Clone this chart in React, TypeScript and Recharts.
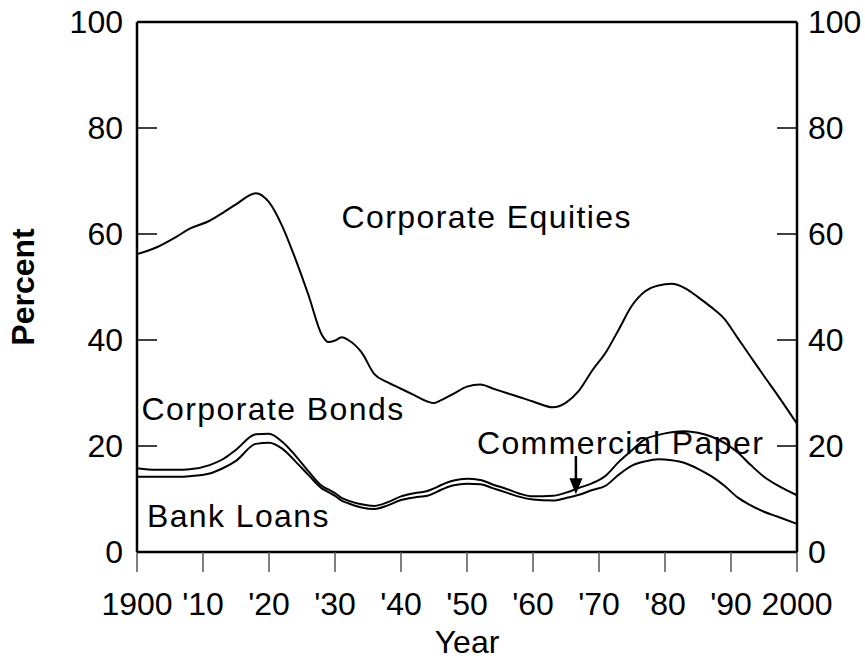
import React from 'react';
import { LineChart, Line, XAxis, YAxis, ReferenceLine, ReferenceDot } from 'recharts';

// share of corporate financing, percent (cumulative from the bottom)
const years = [
  1900, 1903, 1906, 1908, 1911, 1913, 1915, 1918, 1920, 1922,
  1924, 1926, 1928, 1929, 1930, 1931, 1932, 1934, 1936, 1938,
  1940, 1942, 1944, 1945, 1946, 1948, 1950, 1952, 1954, 1956,
  1958, 1960, 1963, 1965, 1967, 1969, 1971, 1973, 1975, 1977,
  1979, 1981, 1983, 1985, 1987, 1989, 1991, 1993, 1995, 1997, 2000,
];

// loans + paper + bonds (equities lie above this line)
const debtTotal = [
  56.2, 57.5, 59.5, 61, 62.5, 64, 65.6, 67.7, 66, 61.5,
  55.3, 48.4, 41, 39.6, 39.9, 40.5, 40, 37.7, 33.5, 32,
  30.8, 29.6, 28.4, 28.1, 28.6, 29.9, 31.2, 31.6, 30.8, 30,
  29.2, 28.4, 27.3, 28.2, 30.5, 34.3, 37.6, 42, 46.5, 49.2,
  50.3, 50.6, 49.8, 48.1, 46.2, 44, 40.4, 36.8, 33.2, 29.7, 24.2,
];

// loans + commercial paper
const loansPlusPaper = [
  15.8, 15.5, 15.5, 15.6, 16.4, 17.5, 19.3, 22.2, 22.3, 20.8,
  18.2, 15.2, 12.5, 11.8, 11.1, 10.2, 9.7, 9.0, 8.7, 9.4,
  10.5, 11.1, 11.5, 12.0, 12.6, 13.5, 13.8, 13.6, 12.7, 11.9,
  11.0, 10.5, 10.6, 11.2, 12.1, 13.0, 14.4, 17.0, 19.2, 21.3,
  22.1, 22.6, 22.8, 22.5, 21.8, 20.6, 18.8, 16.4, 14.2, 12.6, 10.7,
];

const bankLoans = [
  14.2, 14.2, 14.2, 14.3, 14.8, 15.8, 17.2, 20.4, 20.6, 19.5,
  17.1, 14.5, 12.0, 11.3, 10.6, 9.7, 9.2, 8.4, 8.1, 8.8,
  9.8, 10.3, 10.6, 11.1, 11.7, 12.6, 12.9, 12.8, 12.0, 11.2,
  10.4, 9.9, 9.7, 10.2, 10.8, 11.7, 12.5, 14.6, 16.3, 17.1,
  17.5, 17.3, 16.8, 15.7, 14.3, 12.5, 10.3, 8.8, 7.6, 6.7, 5.3,
];

const yearTicks = [1900, 1910, 1920, 1930, 1940, 1950, 1960, 1970, 1980, 1990, 2000];
const percentTicks = [0, 20, 40, 60, 80, 100];

const chartData = years.map((year, i) => ({
  year,
  debt: debtTotal[i],
  paper: loansPlusPaper[i],
  loans: bankLoans[i],
}));

const font = "'Liberation Sans', Arial, Helvetica, sans-serif";

const formatYear = (v: number) =>
  v === 1900 || v === 2000 ? String(v) : "'" + String(v).slice(2);

const note = (text: string) => (props: any) => (
  <text x={props.cx} y={props.cy} fontSize={32} fontFamily={font} letterSpacing={1.4} fill="#000">
    {text}
  </text>
);

const arrowHead = (props: any) => (
  <polygon
    points={`${props.cx},${props.cy} ${props.cx - 6.5},${props.cy - 16} ${props.cx + 6.5},${props.cy - 16}`}
    fill="#000"
  />
);

// y ticks point into the plot, labels sit outside
const LeftTick = (props: any) => {
  const { x, y, payload } = props;
  return (
    <g>
      <line x1={x + 14} x2={x + 34} y1={y} y2={y} stroke="#000" strokeWidth={1.5} />
      <text x={x} y={y} dy="0.355em" textAnchor="end" fontSize={32} fontFamily={font} fill="#000">
        {payload.value}
      </text>
    </g>
  );
};

const RightTick = (props: any) => {
  const { x, y, payload } = props;
  return (
    <g>
      <line x1={x - 11} x2={x - 31} y1={y} y2={y} stroke="#000" strokeWidth={1.5} />
      <text x={x} y={y} dy="0.355em" textAnchor="start" fontSize={32} fontFamily={font} fill="#000">
        {payload.value}
      </text>
    </g>
  );
};

const App = () => {
  return (
    <div style={{ position: 'absolute', left: 0, top: 0 }}>
      <LineChart
        width={865}
        height={659}
        data={chartData}
        margin={{ top: 22, right: 0, bottom: 0, left: 0 }}
        style={{ fontFamily: font }}
      >
        <XAxis
          dataKey="year"
          type="number"
          domain={[1900, 2000]}
          ticks={yearTicks}
          tickFormatter={formatYear}
          interval={0}
          height={107}
          tickSize={20}
          tickMargin={20}
          axisLine={{ stroke: '#000', strokeWidth: 2.5 }}
          tickLine={{ stroke: '#555', strokeWidth: 1.5 }}
          tick={{ fontSize: 32, fill: '#000', fontFamily: font }}
          label={{ value: 'Year', position: 'insideBottom', offset: 6, fontSize: 32, fill: '#000' }}
        />
        <YAxis
          yAxisId="left"
          domain={[0, 100]}
          ticks={percentTicks}
          interval={0}
          width={137}
          tickSize={0}
          tickMargin={14}
          tickLine={false}
          axisLine={{ stroke: '#000', strokeWidth: 2.5 }}
          tick={LeftTick}
          label={{
            value: 'Percent',
            angle: -90,
            position: 'insideLeft',
            offset: 23,
            fontSize: 32,
            fontWeight: 'bold',
            fill: '#000',
            style: { textAnchor: 'middle' },
          }}
        />
        <YAxis
          yAxisId="right"
          orientation="right"
          domain={[0, 100]}
          ticks={percentTicks}
          interval={0}
          width={68}
          tickSize={0}
          tickMargin={11}
          tickLine={false}
          axisLine={{ stroke: '#000', strokeWidth: 2.5 }}
          tick={RightTick}
        />
        <ReferenceLine yAxisId="left" y={100} stroke="#000" strokeWidth={2.5} />

        <Line yAxisId="left" type="monotone" dataKey="debt" stroke="#000" strokeWidth={2} dot={false} isAnimationActive={false} />
        <Line yAxisId="left" type="monotone" dataKey="paper" stroke="#000" strokeWidth={2} dot={false} isAnimationActive={false} />
        <Line yAxisId="right" type="monotone" dataKey="loans" stroke="#000" strokeWidth={2} dot={false} isAnimationActive={false} />

        <ReferenceDot yAxisId="left" x={1931} y={61.1} r={0} shape={note('Corporate Equities')} />
        <ReferenceDot yAxisId="left" x={1900.7} y={25} r={0} shape={note('Corporate Bonds')} />
        <ReferenceDot yAxisId="left" x={1951.5} y={18.5} r={0} shape={note('Commercial Paper')} />
        <ReferenceDot yAxisId="left" x={1901.5} y={4.7} r={0} shape={note('Bank Loans')} />

        <ReferenceLine
          yAxisId="left"
          segment={[{ x: 1966.5, y: 18.1 }, { x: 1966.5, y: 13 }]}
          stroke="#000"
          strokeWidth={2.5}
        />
        <ReferenceDot yAxisId="left" x={1966.5} y={10.9} r={0} shape={arrowHead} />
      </LineChart>
    </div>
  );
};

export default App;
